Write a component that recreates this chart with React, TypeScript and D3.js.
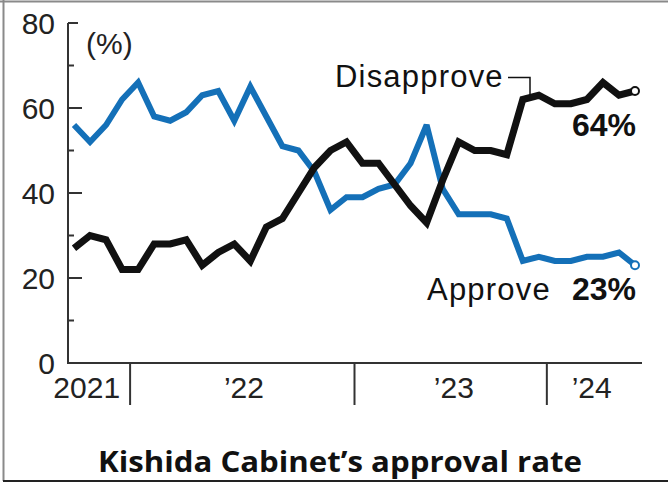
import * as d3 from "d3";

// Kishida cabinet polls, Oct 2021 - Jun 2024 (one entry per poll)
const approve = [56, 52, 56, 62, 66, 58, 57, 59, 63, 64, 57, 65, 58, 51, 50, 45, 36, 39, 39, 41, 42, 47, 56, 41, 35, 35, 35, 34, 24, 25, 24, 24, 25, 25, 26, 23];
const disapprove = [27, 30, 29, 22, 22, 28, 28, 29, 23, 26, 28, 24, 32, 34, 40, 46, 50, 52, 47, 47, 42, 37, 33, 43, 52, 50, 50, 49, 62, 63, 61, 61, 62, 66, 63, 64];
const yearBreaks = [3.5, 17.5, 29.5];
const yearLabels = ["2021", "’22", "’23", "’24"];
const yearLabelPos = [3.5, 10.6, 23.7, 32.3];
const yTicks = [0, 20, 40, 60, 80];
const yMinor = [10, 30, 50, 70];

const W = 668;
const H = 484;
const BLUE = "#1470b8";
const FONT = "'Liberation Sans', Arial, sans-serif";

export default function App() {
    const x = d3.scaleLinear([0, approve.length - 1], [74, 635]);
    const y = d3.scaleLinear([0, 80], [363, 23]);
    const line = d3.line<number>((d, i) => x(i), (d) => y(d));
    const last = approve.length - 1;

    return (
        <svg width={W} height={H} style={{ position: "absolute", left: 0, top: 0, background: "#fff" }}>
            {/* frame */}
            <line x1={0} x2={W} y1={1.5} y2={1.5} stroke="#8a8a8a" strokeWidth={2} />
            <line x1={3.5} x2={3.5} y1={0} y2={481} stroke="#8a8a8a" strokeWidth={2} />
            <line x1={3} x2={W} y1={481} y2={481} stroke="#222" strokeWidth={2} />

            {/* y axis */}
            <line x1={68} x2={68} y1={y(0)} y2={y(80)} stroke="#333" strokeWidth={2} />
            {yTicks.map((t) => (
                <g key={t}>
                    {t > 0 && <line x1={68} x2={t === 80 ? 78 : 82} y1={y(t)} y2={y(t)} stroke="#333" strokeWidth={2} />}
                    <text x={55} y={y(t) + 11} textAnchor="end" fontFamily={FONT} fontSize={30} fill="#222">{t}</text>
                </g>
            ))}
            {yMinor.map((t) => (
                <line key={t} x1={68} x2={74} y1={y(t)} y2={y(t)} stroke="#333" strokeWidth={2} />
            ))}
            <text x={86} y={54} fontFamily={FONT} fontSize={30} fill="#222">(%)</text>

            {/* x axis */}
            <line x1={67} x2={642} y1={y(0)} y2={y(0)} stroke="#333" strokeWidth={2} />
            {yearBreaks.map((b) => (
                <line key={b} x1={x(b)} x2={x(b)} y1={y(0)} y2={405} stroke="#333" strokeWidth={2} />
            ))}
            {yearLabels.map((l, i) => (
                <text key={l} x={i === 0 ? x(yearLabelPos[i]) - 10 : x(yearLabelPos[i])} y={398}
                    textAnchor={i === 0 ? "end" : "middle"} fontFamily={FONT} fontSize={30} fill="#222">{l}</text>
            ))}

            {/* series */}
            <path d={line(approve) as string} fill="none" stroke={BLUE} strokeWidth={6} strokeLinejoin="miter" strokeMiterlimit={3} />
            <path d={line(disapprove) as string} fill="none" stroke="#111" strokeWidth={7} strokeLinejoin="miter" strokeMiterlimit={3} />
            <circle cx={x(last)} cy={y(approve[last])} r={4} fill="#fff" stroke={BLUE} strokeWidth={2} />
            <circle cx={x(last)} cy={y(disapprove[last])} r={4} fill="#fff" stroke="#111" strokeWidth={2} />

            {/* labels */}
            <text x={335} y={87} fontFamily={FONT} fontSize={31} letterSpacing={1.2} fill="#111">Disapprove</text>
            <path d={`M508,77.5H530V${y(disapprove[28]) - 3}`} fill="none" stroke="#111" strokeWidth={1.5} />
            <text x={636} y={136} textAnchor="end" fontFamily={FONT} fontSize={32} fontWeight="bold" fill="#111">{disapprove[last]}%</text>
            <text x={427} y={300} fontFamily={FONT} fontSize={31} letterSpacing={1.2} fill="#111">Approve</text>
            <text x={636} y={300} textAnchor="end" fontFamily={FONT} fontSize={32} fontWeight="bold" fill="#111">{approve[last]}%</text>

            {/* title */}
            <text x={340} y={472} textAnchor="middle" fontFamily="'Open Sans', 'Noto Sans', sans-serif" fontSize={28}
                fontWeight="bold" fill="#111" textLength={484} lengthAdjust="spacingAndGlyphs">Kishida Cabinet’s approval rate</text>
        </svg>
    );
}
